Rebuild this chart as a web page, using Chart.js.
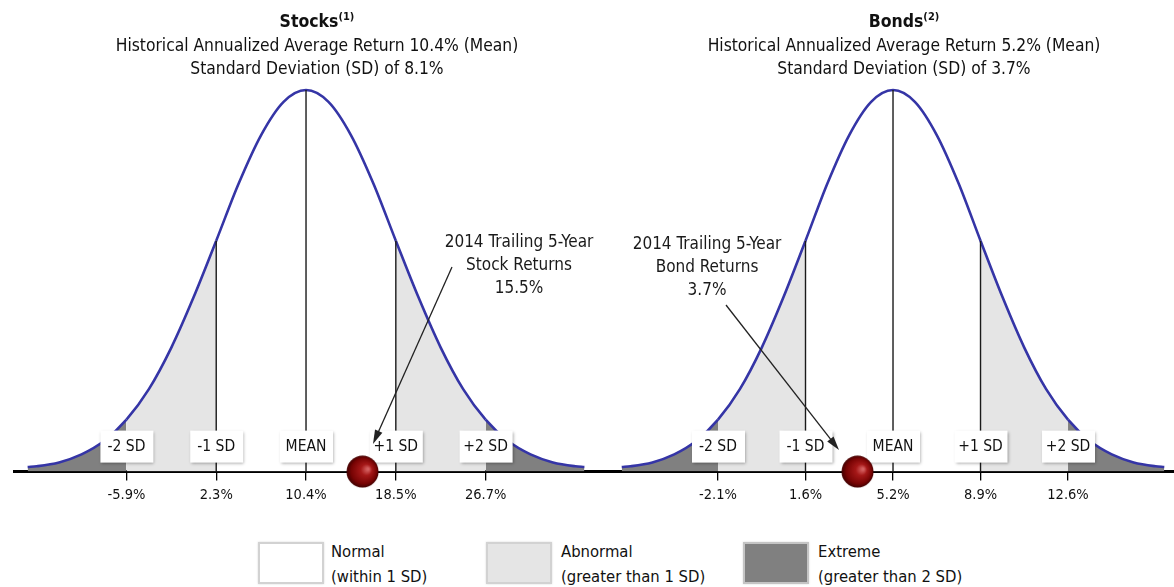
<!DOCTYPE html>
<html>
<head>
<meta charset="utf-8">
<script src="https://cdn.jsdelivr.net/npm/chart.js@4.4.0/dist/chart.umd.min.js"></script>
<style>
  body { margin: 0; background: #fff; color: #111;
         font-family: "Liberation Sans Narrow", "Arial Narrow", "DejaVu Sans Condensed", sans-serif; }
  #page { position: relative; width: 1174px; height: 587px; overflow: hidden; }
  canvas { position: absolute; top: 0; }
  .head { position: absolute; top: 0; width: 600px; text-align: center; }
  .head .t { font-weight: bold; font-size: 17.5px; line-height: 25px; margin-top: 9px; }
  .head .t sup { font-size: 11px; line-height: 0; vertical-align: 7px; }
  .head .s { font-size: 17.3px; line-height: 23px; }
  .key { position: absolute; top: 542px; width: 62px; height: 38px; border: 2px solid #d2d2d2;
         box-shadow: 0 0 2px rgba(0,0,0,0.15); }
  .keytext { position: absolute; top: 539px; font-size: 16.5px; line-height: 25px; white-space: nowrap; }
</style>
</head>
<body>
<div id="page">
  <canvas id="stocks" width="620" height="520" style="left:0"></canvas>
  <canvas id="bonds" width="587" height="520" style="left:587px"></canvas>

  <div class="head" style="left:17px">
    <div class="t">Stocks<sup>(1)</sup></div>
    <div class="s">Historical Annualized Average Return 10.4% (Mean)</div>
    <div class="s">Standard Deviation (SD) of 8.1%</div>
  </div>
  <div class="head" style="left:604px">
    <div class="t">Bonds<sup>(2)</sup></div>
    <div class="s">Historical Annualized Average Return 5.2% (Mean)</div>
    <div class="s">Standard Deviation (SD) of 3.7%</div>
  </div>

  <div class="key" style="left:258px; background:#fff"></div>
  <div class="keytext" style="left:331px">Normal<br>(within 1 SD)</div>
  <div class="key" style="left:486px; background:#e5e5e5"></div>
  <div class="keytext" style="left:561px">Abnormal<br>(greater than 1 SD)</div>
  <div class="key" style="left:743px; background:#808080; border-color:#c4c4c4"></div>
  <div class="keytext" style="left:818px">Extreme<br>(greater than 2 SD)</div>
</div>

<script>
const FONT = '"Liberation Sans Narrow", "Arial Narrow", "DejaVu Sans Condensed", sans-serif';

// curve, in SD units, height relative to the peak
const sdSteps = [-3.1, -3, -2.75, -2.5, -2.25, -2, -1.75, -1.5, -1.25, -1, -0.75, -0.5, -0.25, 0,
                 0.25, 0.5, 0.75, 1, 1.25, 1.5, 1.75, 2, 2.25, 2.5, 2.75, 3, 3.1];
const curveHeights = [0.012, 0.014, 0.024, 0.045, 0.08, 0.136, 0.216, 0.325, 0.458, 0.605, 0.755, 0.882, 0.969, 1,
                      0.969, 0.882, 0.755, 0.605, 0.458, 0.325, 0.216, 0.136, 0.08, 0.045, 0.024, 0.014, 0.012];

const sdTicks = [-2, -1, 0, 1, 2];
const boxLabels = ['-2 SD', '-1 SD', 'MEAN', '+1 SD', '+2 SD'];
const ruleTicks = [-1, 0, 1];

const stockTicks = ['-5.9%', '2.3%', '10.4%', '18.5%', '26.7%'];
const bondTicks = ['-2.1%', '1.6%', '5.2%', '8.9%', '12.6%'];

const stockMean = 10.4, stockSD = 8.1, stockTrailing = 15.5;
const bondMean = 5.2, bondSD = 3.7, bondTrailing = 3.7;

function ballSprite() {
    let c = document.createElement('canvas');
    c.width = 33; c.height = 33;
    let g = c.getContext('2d');
    let grd = g.createRadialGradient(22, 14, 1, 16.5, 16.5, 16.5);
    grd.addColorStop(0, '#d46060');
    grd.addColorStop(0.3, '#a51818');
    grd.addColorStop(0.75, '#780404');
    grd.addColorStop(1, '#3a0000');
    g.fillStyle = grd;
    g.beginPath();
    g.arc(16.5, 16.5, 16, 0, Math.PI * 2);
    g.fill();
    return c;
}
const ball = ballSprite();

function shade(ctx) {
    let m = Math.abs((ctx.p0.parsed.x + ctx.p1.parsed.x) / 2);
    if (m < 1) return '#ffffff';
    if (m < 2) return '#e5e5e5';
    return '#808080';
}

const decor = {
    id: 'decor',
    beforeDatasetDraw(chart, args) {
        if (chart.data.datasets[args.index].label !== 'marker') return;
        const ctx = chart.ctx, x = chart.scales.x, base = chart.chartArea.bottom;
        ctx.save();
        ctx.font = '15.5px ' + FONT;
        ctx.textAlign = 'center';
        ctx.textBaseline = 'middle';
        sdTicks.forEach((s, i) => {
            let px = x.getPixelForValue(s);
            ctx.shadowColor = 'rgba(0,0,0,0.35)';
            ctx.shadowBlur = 3;
            ctx.shadowOffsetX = 1;
            ctx.shadowOffsetY = 1;
            ctx.fillStyle = '#fff';
            ctx.fillRect(px - 26, base - 41, 53, 32);
            ctx.shadowColor = 'transparent';
            ctx.fillStyle = '#111';
            ctx.fillText(boxLabels[i], px, base - 25);
        });
        ctx.restore();
    },
    afterDraw(chart, args, opts) {
        const n = opts.note;
        if (!n) return;
        const ctx = chart.ctx;
        ctx.save();
        ctx.font = '17px ' + FONT;
        ctx.fillStyle = '#1a1a1a';
        ctx.textAlign = 'center';
        ctx.textBaseline = 'middle';
        n.lines.forEach((t, i) => ctx.fillText(t, n.x, n.y + i * 23));

        const [x1, y1] = n.from, [x2, y2] = n.to;
        const a = Math.atan2(y2 - y1, x2 - x1), c = Math.cos(a), s = Math.sin(a);
        ctx.strokeStyle = '#222';
        ctx.lineWidth = 1.3;
        ctx.beginPath();
        ctx.moveTo(x1, y1);
        ctx.lineTo(x2 - 9 * c, y2 - 9 * s);
        ctx.stroke();
        ctx.fillStyle = '#222';
        ctx.beginPath();
        ctx.moveTo(x2, y2);
        ctx.lineTo(x2 - 14 * c + 4 * s, y2 - 14 * s - 4 * c);
        ctx.lineTo(x2 - 14 * c - 4 * s, y2 - 14 * s + 4 * c);
        ctx.closePath();
        ctx.fill();
        ctx.restore();
    }
};

Chart.defaults.font.family = FONT;

function bellChart(id, o) {
    const curve = sdSteps.map((s, i) => ({x: s, y: curveHeights[i]}));
    const rules = ruleTicks.map(s => ({
        label: 'rule',
        data: [{x: s, y: 0}, {x: s, y: curveHeights[sdSteps.indexOf(s)]}],
        borderColor: '#1a1a1a',
        borderWidth: 1.4,
        pointRadius: 0,
        fill: false,
        order: 1
    }));
    return new Chart(document.getElementById(id), {
        type: 'line',
        data: {
            datasets: [
                {
                    label: 'marker',
                    data: [{x: (o.trailing - o.mean) / o.sd, y: 0}],
                    showLine: false,
                    pointStyle: ball,
                    pointRadius: 16,
                    clip: false,
                    order: 0
                },
                ...rules,
                {
                    label: 'curve',
                    data: curve,
                    borderColor: '#3535a6',
                    borderWidth: 2.6,
                    pointRadius: 0,
                    cubicInterpolationMode: 'monotone',
                    fill: 'origin',
                    backgroundColor: '#e5e5e5',
                    segment: {backgroundColor: shade},
                    clip: 4,
                    order: 2
                }
            ]
        },
        options: {
            responsive: false,
            animation: false,
            devicePixelRatio: 1,
            layout: {autoPadding: false, padding: {top: 90, bottom: 10, left: o.padLeft, right: o.padRight}},
            plugins: {
                legend: {display: false},
                tooltip: {enabled: false},
                decor: {note: o.note}
            },
            scales: {
                x: {
                    type: 'linear',
                    min: o.min,
                    max: o.max,
                    border: {display: true, color: '#000', width: 3},
                    grid: {display: true, drawOnChartArea: false, drawTicks: true, tickLength: 9,
                           color: '#000', lineWidth: 1.3},
                    afterBuildTicks: ax => { ax.ticks = sdTicks.map(v => ({value: v})); },
                    ticks: {
                        callback: (v, i) => o.tickLabels[i],
                        padding: 6,
                        color: '#111',
                        font: {size: 14.5},
                        maxRotation: 0,
                        autoSkip: false
                    }
                },
                y: {display: false, min: 0, max: 1}
            }
        },
        plugins: [decor]
    });
}

bellChart('stocks', {
    mean: stockMean, sd: stockSD, trailing: stockTrailing,
    tickLabels: stockTicks,
    min: -3.252, max: 3.129, padLeft: 14, padRight: 33,
    note: {
        lines: ['2014 Trailing 5-Year', 'Stock Returns', stockTrailing + '%'],
        x: 519, y: 243,
        from: [452, 267], to: [373, 444]
    }
});

bellChart('bonds', {
    mean: bondMean, sd: bondSD, trailing: bondTrailing,
    tickLabels: bondTicks,
    min: -3.497, max: 3.211, padLeft: 0, padRight: 0,
    note: {
        lines: ['2014 Trailing 5-Year', 'Bond Returns', bondTrailing + '%'],
        x: 120, y: 245,
        from: [139, 305], to: [252, 450]
    }
});
</script>
</body>
</html>
